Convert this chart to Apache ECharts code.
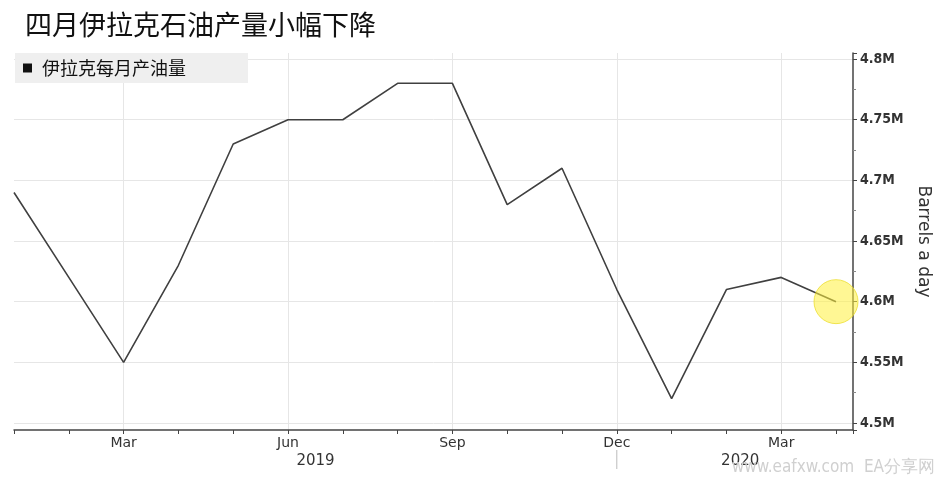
<!DOCTYPE html>
<html><head><meta charset="utf-8">
<script src="https://cdn.jsdelivr.net/npm/echarts@6/dist/echarts.min.js"></script>
<style>html,body{margin:0;padding:0;background:#fff}#c{width:941px;height:485px}</style>
</head><body><div id="c"></div>
<script>
const months = ['Jan','Feb','Mar','Apr','May','Jun','Jul','Aug','Sep','Oct','Nov','Dec','Jan','Feb','Mar','Apr'];
const production = [4.69,4.62,4.55,4.63,4.73,4.75,4.75,4.78,4.78,4.68,4.71,4.61,4.52,4.61,4.62,4.60];
const yearLabels = ['2019','2020'];
const yearCenters = [5.5, 13.25];
const yearBoundary = 11;
const seriesName = '伊拉克每月产油量';
const titleText = '四月伊拉克石油产量小幅下降';
const axisTitle = 'Barrels a day';
const watermark = 'www.eafxw.com  EA分享网';

const chart = echarts.init(document.getElementById('c'), null, {renderer:'canvas'});
const lastIdx = production.length - 1;
const seriesData = production.map((v, i) => {
  if (i === lastIdx) {
    return {value:[i, v], symbol:'circle', symbolSize:44,
      itemStyle:{color:'rgba(255,240,60,0.55)', borderColor:'rgba(235,220,40,0.75)', borderWidth:1}};
  }
  return {value:[i, v], symbol:'none'};
});

chart.setOption({
  animation:false,
  title:{text:titleText, left:20, top:6, textStyle:{fontFamily:'Noto Sans CJK SC', fontSize:27, fontWeight:'normal', color:'#111'}},
  legend:{left:15, top:53, padding:[6,62,6,8], backgroundColor:'#efefef', itemWidth:9, itemHeight:9, itemGap:0,
    icon:'rect', data:[{name:seriesName, itemStyle:{color:'#111'}}],
    textStyle:{fontFamily:'Noto Sans CJK SC', fontSize:18, color:'#111', padding:[0,0,0,5]}},
  grid:{left:14, right:88, top:53, bottom:55},
  xAxis:{type:'value', min:0, max:15.31, interval:1,
    axisLine:{show:true, onZero:false, lineStyle:{color:'#444', width:1.5}},
    axisTick:{show:true, length:4, lineStyle:{color:'#444'}},
    axisLabel:{margin:6, fontFamily:'DejaVu Sans', fontSize:14, color:'#333',
      formatter:v => (Number.isInteger(v) && v % 3 === 2 && months[v]) ? months[v] : ''},
    splitLine:{show:true, lineStyle:{color:['rgba(0,0,0,0)','rgba(0,0,0,0)','#e6e6e6'], width:1}}
  },
  yAxis:{type:'value', position:'right', min:4.4942, max:4.805, splitNumber:6,
    name:axisTitle, nameLocation:'middle', nameRotate:-90, nameGap:62,
    nameTextStyle:{fontFamily:'DejaVu Sans', fontSize:17, color:'#333'},
    axisLine:{show:true, onZero:false, lineStyle:{color:'#444', width:1.5}},
    axisTick:{show:true, length:4, lineStyle:{color:'#444'}},
    minorTick:{show:true, splitNumber:2, length:3, lineStyle:{color:'#888'}},
    axisLabel:{margin:7, fontFamily:'DejaVu Sans Condensed', fontSize:14, fontWeight:'bold', color:'#333',
      formatter:v => (Math.abs(v*20 - Math.round(v*20)) < 1e-6) ? (+v.toFixed(2)) + 'M' : ''},
    splitLine:{show:true, showMinLine:false, showMaxLine:false, lineStyle:{color:'#e6e6e6'}}
  },
  series:[{name:seriesName, type:'line', data:seriesData, showSymbol:true, symbol:'none',
    lineStyle:{color:'#404040', width:1.6}, itemStyle:{color:'#111'}, z:3}]
});

// year labels and year separator positioned through the axis scale
const baseY = chart.convertToPixel({gridIndex:0}, [0, 4.4942])[1];
const g = [];
yearLabels.forEach((t, k) => {
  const x = chart.convertToPixel({xAxisIndex:0}, yearCenters[k]);
  g.push({type:'text', left:x - 19, top:baseY + 24, style:{text:t, font:'15px "DejaVu Sans"', fill:'#333'}});
});
const sx = chart.convertToPixel({xAxisIndex:0}, yearBoundary);
g.push({type:'line', shape:{x1:sx, y1:baseY + 20, x2:sx, y2:baseY + 39}, style:{stroke:'#bbb', lineWidth:1}});
g.push({type:'text', right:6, top:baseY + 29, style:{text:watermark, font:'17px "DejaVu Sans Condensed"', fill:'#d0d0d0'}});
chart.setOption({graphic:g});
</script></body></html>
